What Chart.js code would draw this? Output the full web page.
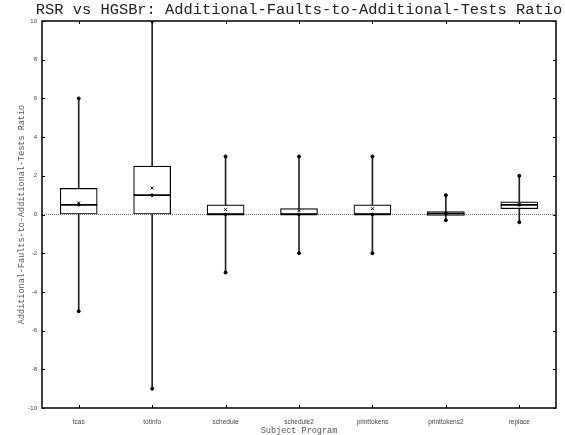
<!DOCTYPE html>
<html>
<head>
<meta charset="utf-8">
<script src="https://cdn.jsdelivr.net/npm/chart.js@4"></script>
<style>
    html, body { margin: 0; padding: 0; background: #fff; overflow: hidden; }
    #wrap { width: 565px; height: 435px; position: relative; }
</style>
</head>
<body>
<div id="wrap"><canvas id="box"></canvas></div>
<script>
const categories = ['tcas', 'totinfo', 'schedule', 'schedule2', 'printtokens', 'printtokens2', 'replace'];
const minValues = [-5, -9, -3, -2, -2, -0.3, -0.4];
const q1Values = [0, 0, 0, 0, 0, -0.05, 0.3];
const medianValues = [0.5, 1.0, 0, 0, 0, 0.05, 0.5];
const q3Values = [1.35, 2.5, 0.5, 0.3, 0.5, 0.15, 0.65];
const maxValues = [6, 10, 3, 3, 3, 1, 2];
const meanValues = [0.6, 1.37, 0.25, 0.2, 0.3, 0.05, 0.5];
const yTicks = [-10, -8, -6, -4, -2, 0, 2, 4, 6, 8, 10];

const mono = '"Liberation Mono", "DejaVu Sans Mono", monospace';
const sans = '"Liberation Sans", Arial, sans-serif';

// frame, inward ticks and the main title
const framePlugin = {
    id: 'frame',
    afterDraw(chart) {
        const { ctx, chartArea: a, scales } = chart;
        ctx.save();
        ctx.strokeStyle = '#000';
        ctx.lineWidth = 1;
        ctx.beginPath();
        scales.y.ticks.forEach(t => {
            const y = Math.round(scales.y.getPixelForValue(t.value)) + 0.5;
            ctx.moveTo(a.left, y); ctx.lineTo(a.left + 3, y);
            ctx.moveTo(a.right, y); ctx.lineTo(a.right - 3, y);
        });
        categories.forEach((c, i) => {
            const x = Math.round(scales.x.getPixelForValue(i)) + 0.5;
            ctx.moveTo(x, a.bottom); ctx.lineTo(x, a.bottom - 3);
            ctx.moveTo(x, a.top); ctx.lineTo(x, a.top + 3);
        });
        ctx.stroke();
        ctx.lineWidth = 1.5;
        ctx.strokeRect(a.left, a.top, a.right - a.left, a.bottom - a.top);

        ctx.fillStyle = '#222';
        ctx.font = '15.4px ' + mono;
        ctx.textAlign = 'center';
        ctx.textBaseline = 'middle';
        ctx.fillText('RSR vs HGSBr: Additional-Faults-to-Additional-Tests Ratio', (a.left + a.right) / 2, 10);
        ctx.restore();
    }
};

const pointBase = { type: 'line', showLine: false, pointHoverRadius: 0 };

new Chart(document.getElementById('box'), {
    data: {
        labels: categories,
        datasets: [
            {
                type: 'bar',
                data: minValues.map((v, i) => [v, maxValues[i]]),
                backgroundColor: '#222',
                barThickness: 1,
                grouped: false,
                order: 5
            },
            {
                type: 'bar',
                data: q1Values.map((v, i) => [v, q3Values[i]]),
                backgroundColor: '#fff',
                borderColor: '#000',
                borderWidth: 1.2,
                borderSkipped: false,
                barThickness: 37,
                grouped: false,
                order: 4
            },
            {
                ...pointBase,
                data: medianValues,
                pointStyle: 'line',
                pointRadius: 18.5,
                borderColor: '#000',
                pointBorderWidth: 1.6,
                order: 3
            },
            {
                ...pointBase,
                data: meanValues,
                pointStyle: 'crossRot',
                pointRadius: 2,
                borderColor: '#000',
                pointBorderWidth: 1,
                order: 2
            },
            {
                ...pointBase,
                data: minValues,
                pointStyle: 'circle',
                pointRadius: 1.5,
                backgroundColor: '#000',
                borderColor: '#000',
                order: 1
            },
            {
                ...pointBase,
                data: maxValues,
                pointStyle: 'circle',
                pointRadius: 1.5,
                backgroundColor: '#000',
                borderColor: '#000',
                order: 1
            },
            {
                ...pointBase,
                data: medianValues,
                pointStyle: 'circle',
                pointRadius: 1.3,
                backgroundColor: '#000',
                borderColor: '#000',
                order: 1
            }
        ]
    },
    options: {
        responsive: true,
        maintainAspectRatio: false,
        animation: false,
        devicePixelRatio: 1,
        layout: { autoPadding: false, padding: { top: 21, right: 9, left: 0, bottom: 0 } },
        plugins: {
            legend: { display: false },
            tooltip: { enabled: false }
        },
        scales: {
            x: {
                offset: true,
                afterFit: s => { s.height = 27; s.paddingLeft = 0; s.paddingRight = 0; },
                grid: { display: false },
                border: { display: false },
                ticks: {
                    color: '#444',
                    font: { family: sans, size: 6.5 },
                    padding: 2,
                    maxRotation: 0,
                    autoSkip: false
                },
                title: {
                    display: true,
                    text: 'Subject Program',
                    color: '#555',
                    font: { family: mono, size: 8.5 },
                    padding: { top: 0, bottom: -1 }
                }
            },
            y: {
                min: -10,
                max: 10,
                afterFit: s => { s.width = 42; },
                afterBuildTicks: s => { s.ticks = yTicks.map(v => ({ value: v })); },
                grid: {
                    drawTicks: false,
                    color: ctx => ctx.tick && ctx.tick.value === 0 ? '#777' : 'rgba(0,0,0,0)',
                    lineWidth: 1
                },
                border: { display: false, dash: [1, 1] },
                ticks: {
                    color: '#444',
                    font: { family: sans, size: 6 },
                    padding: 5
                },
                title: {
                    display: true,
                    text: 'Additional-Faults-to-Additional-Tests Ratio',
                    color: '#555',
                    font: { family: mono, size: 8.5 },
                    padding: { top: 17, bottom: 0 }
                }
            }
        }
    },
    plugins: [framePlugin]
});
</script>
</body>
</html>
